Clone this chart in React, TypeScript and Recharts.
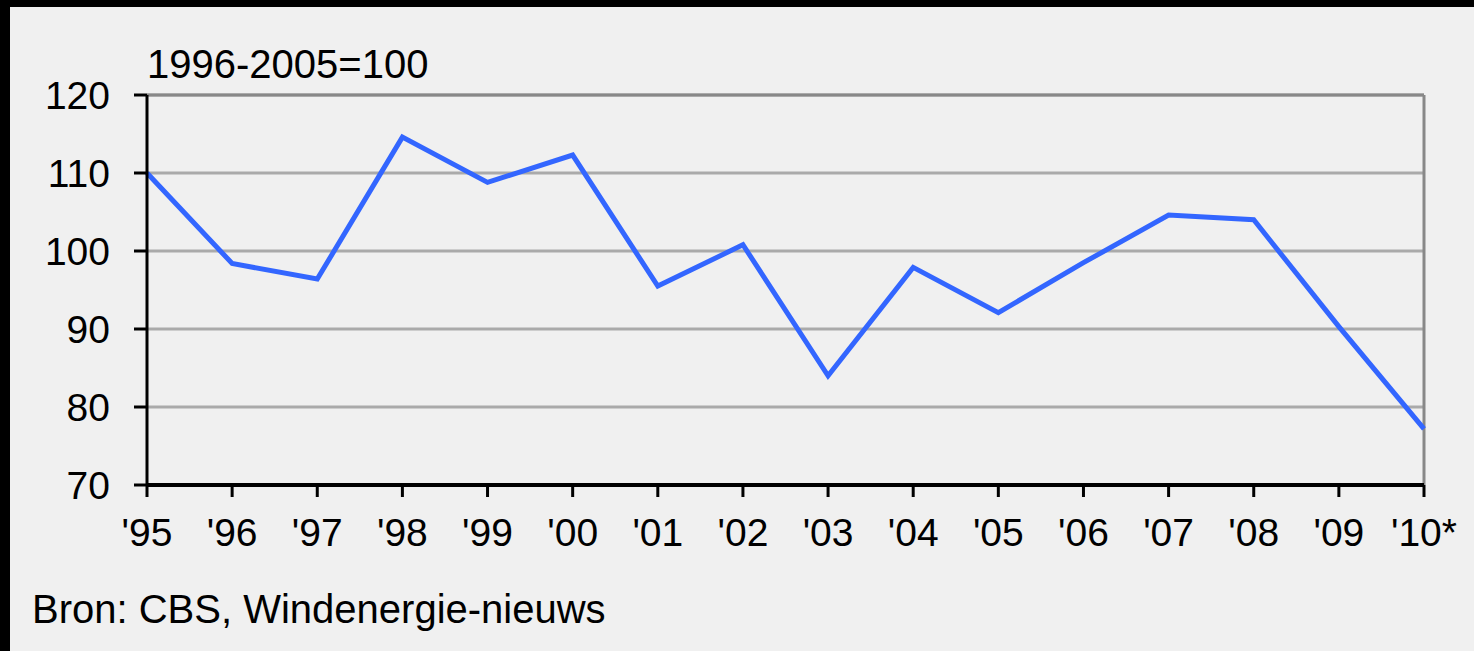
import React from "react";
import { LineChart, Line, XAxis, YAxis, CartesianGrid, ReferenceLine } from "recharts";

const years = ["'95", "'96", "'97", "'98", "'99", "'00", "'01", "'02", "'03", "'04", "'05", "'06", "'07", "'08", "'09", "'10*"];
const indexValues = [110, 98.4, 96.4, 114.6, 108.8, 112.3, 95.5, 100.8, 84.0, 97.9, 92.1, 98.5, 104.6, 104.0, 90.3, 77.2];
const yTicks = [70, 80, 90, 100, 110, 120];
const unitLabel = "1996-2005=100";
const sourceLabel = "Bron: CBS, Windenergie-nieuws";

const data = years.map((y, i) => ({ year: y, value: indexValues[i] }));

const FONT = "'Liberation Sans', Arial, sans-serif";

export default function App() {
  return (
    <div style={{ position: "fixed", left: 0, top: 0, width: 1474, height: 651, background: "#000" }}>
      <div style={{ position: "absolute", left: 10, top: 7, width: 1464, height: 644, background: "#f0f0f0" }} />
      <div style={{ position: "absolute", left: 0, top: 0 }}>
        <LineChart
          width={1474}
          height={651}
          data={data}
          margin={{ top: 95, right: 50, bottom: 106, left: 47 }}
        >
          <CartesianGrid vertical={false} stroke="#aaaaaa" strokeWidth={3} />
          <ReferenceLine y={120} stroke="#888888" strokeWidth={3} />
          <ReferenceLine x="'10*" stroke="#888888" strokeWidth={3} />
          <XAxis
            dataKey="year"
            height={60}
            interval={0}
            axisLine={{ stroke: "#000", strokeWidth: 4 }}
            tickLine={{ stroke: "#000", strokeWidth: 3 }}
            tickSize={12}
            tickMargin={21}
            tick={{ fill: "#000", fontSize: 39, fontFamily: FONT }}
          />
          <YAxis
            width={100}
            domain={[70, 120]}
            ticks={yTicks}
            interval={0}
            axisLine={{ stroke: "#000", strokeWidth: 3 }}
            tickLine={{ stroke: "#000", strokeWidth: 3 }}
            tickSize={13}
            tickMargin={24}
            tick={{ fill: "#000", fontSize: 39, fontFamily: FONT }}
          />
          <Line
            type="linear"
            dataKey="value"
            stroke="#3366ff"
            strokeWidth={5}
            dot={false}
            isAnimationActive={false}
          />
        </LineChart>
      </div>
      <div style={{ position: "absolute", left: 147, top: 44, fontSize: 40, lineHeight: "40px", fontFamily: FONT, color: "#000", whiteSpace: "nowrap" }}>
        {unitLabel}
      </div>
      <div style={{ position: "absolute", left: 32, top: 589, fontSize: 40, lineHeight: "40px", fontFamily: FONT, color: "#000", whiteSpace: "nowrap" }}>
        {sourceLabel}
      </div>
    </div>
  );
}
